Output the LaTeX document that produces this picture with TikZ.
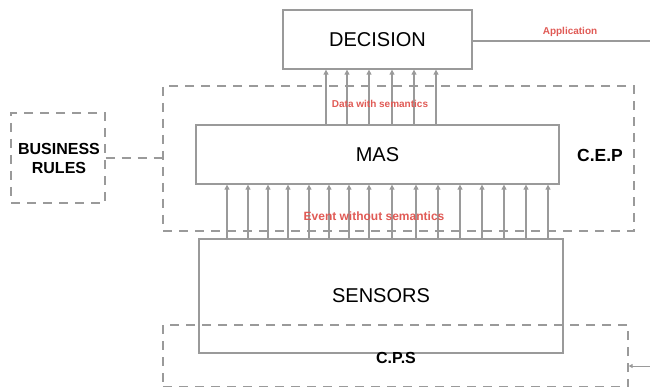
\documentclass[tikz,border=0pt]{standalone}
\usepackage{fontspec}
\setmainfont{Liberation Sans}
\usetikzlibrary{arrows.meta}
\definecolor{lab}{HTML}{E05A55}
\definecolor{ln}{HTML}{9A9A9A}
\tikzset{
  solidbox/.style={draw=ln, line width=1.3pt, inner sep=0pt, font=\fontsize{20}{24}\selectfont},
  dbox/.style={draw=ln, line width=1.2pt, dash pattern=on 9pt off 7pt, inner sep=0pt},
  arr/.style={draw=ln, line width=1.1pt, -{Triangle[width=5pt,length=5pt]}},
  redlab/.style={text=lab, font=\bfseries\fontsize{10}{12}\selectfont, inner sep=0pt},
  bigbold/.style={font=\bfseries\fontsize{16}{19}\selectfont, inner sep=0pt, align=center}
}
\begin{document}
\begin{tikzpicture}[x=1pt,y=-1pt]
\useasboundingbox (0,0) rectangle (650,387);
% dashed containers
\node[dbox, minimum width=471pt, minimum height=145pt] (cep) at (398.5,158.5) {};
\node[dbox, minimum width=465pt, minimum height=62pt] (cps) at (395.5,356) {};
\node[dbox, minimum width=94pt, minimum height=90pt] (br) at (58,158) {};
% solid boxes
\node[solidbox, minimum width=189pt, minimum height=59pt] (dec) at (377.5,39.5) {DECISION};
\node[solidbox, minimum width=363pt, minimum height=59pt] (mas) at (377.5,154.5) {MAS};
\node[solidbox, minimum width=364pt, minimum height=114pt] (sens) at (381,296) {SENSORS};
% connectors
\coordinate (appEnd) at (650,41);
\draw[draw=ln, line width=1.1pt] (appEnd -| dec.east) -- (appEnd);
\draw[dbox] (br.east) -- (cep.west |- br.east);
\coordinate (cpsIn) at (650,366);
\draw[draw=ln, line width=0.9pt, -{Triangle[width=4pt,length=4pt]}] (cpsIn) -- (cps.east |- cpsIn);
\foreach \x in {326,347,369,392,414,436}{
  \coordinate (c) at (\x,0);
  \draw[arr] (mas.north -| c) -- (dec.south -| c);
}
\foreach \x in {227,248,268,288,309,329,349,369,392,416,438,460,482,504,526,548}{
  \coordinate (c) at (\x,0);
  \draw[arr] (sens.north -| c) -- (mas.south -| c);
}
% texts
\node[bigbold] (brt) at (59,158) {BUSINESS\\RULES};
\node[bigbold, font=\bfseries\fontsize{17.5}{20}\selectfont] (cept) at (600,155) {C.E.P};
\node[bigbold] (cpst) at (396,358) {C.P.S};
\node[redlab] (appl) at (570,32) {Application};
\node[redlab] (dws) at (380,104) {Data with semantics};
\node[redlab, font=\bfseries\fontsize{12}{14}\selectfont] (ews) at (374,216) {Event without semantics};
\end{tikzpicture}
\end{document}
